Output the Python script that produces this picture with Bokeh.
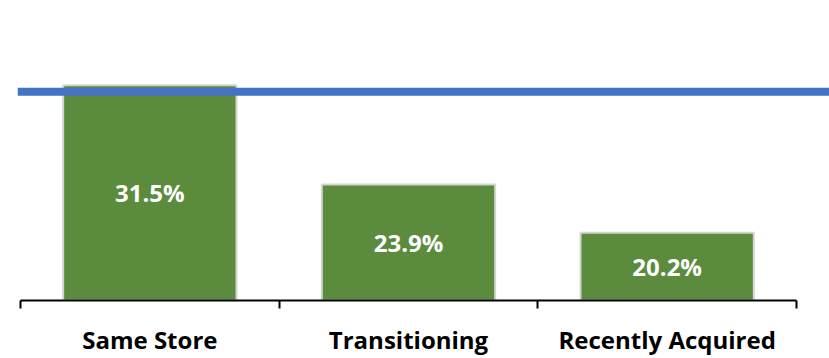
from bokeh.plotting import figure
from bokeh.models import Range1d, LinearAxis, FixedTicker, Span, ColumnDataSource
from bokeh.core.properties import value
from bokeh.embed import file_html
from bokeh.resources import INLINE

categories = ["Same Store", "Transitioning", "Recently Acquired"]
values = [31.5, 23.9, 20.2]
target = 31.0
y_min = 15
y_max = 38

xs = [i + 0.5 for i in range(len(categories))]
labels = [f"{v:.1f}%" for v in values]
mids = [(y_min + v) / 2 for v in values]

src = ColumnDataSource(dict(x=xs, top=values, mid=mids, label=labels))

unit = 776 / 3.0
x_start = -3 / unit
x_end = x_start + 812 / unit

p = figure(width=829, height=358, output_backend="svg", toolbar_location=None,
           x_range=Range1d(x_start, x_end), y_range=Range1d(y_min, y_max),
           x_axis_location=None, y_axis_location=None,
           min_border_left=17, min_border_right=0, min_border_top=0, min_border_bottom=56)
p.outline_line_color = None
p.xgrid.visible = False
p.ygrid.visible = False
p.background_fill_color = "white"
p.border_fill_color = "white"

p.vbar(x="x", top="top", bottom=y_min, width=0.67, source=src,
       fill_color="#5b8b3c", line_color="#d4d4d4", line_width=2)

p.add_layout(Span(location=target, dimension="width", line_color="#4472c4", line_width=8))

p.text(x="x", y="mid", text="label", source=src, text_color="white",
       text_font=value("Open Sans"), text_font_style="bold", text_font_size="24px",
       text_align="center", text_baseline="middle")

ax = LinearAxis(ticker=FixedTicker(ticks=xs, minor_ticks=[0, 1, 2, 3]))
ax.bounds = (0, 3)
ax.major_label_overrides = {x: c for x, c in zip(xs, categories)}
ax.axis_line_color = "black"
ax.axis_line_width = 2
ax.major_tick_out = 0
ax.major_tick_in = 0
ax.minor_tick_out = 8
ax.minor_tick_in = 0
ax.minor_tick_line_color = "black"
ax.minor_tick_line_width = 2
ax.major_label_standoff = 14
ax.major_label_text_font = "Open Sans"
ax.major_label_text_font_style = "bold"
ax.major_label_text_font_size = "24px"
ax.major_label_text_color = "black"
p.add_layout(ax, "below")

open("out.html", "w").write(file_html(p, INLINE))
